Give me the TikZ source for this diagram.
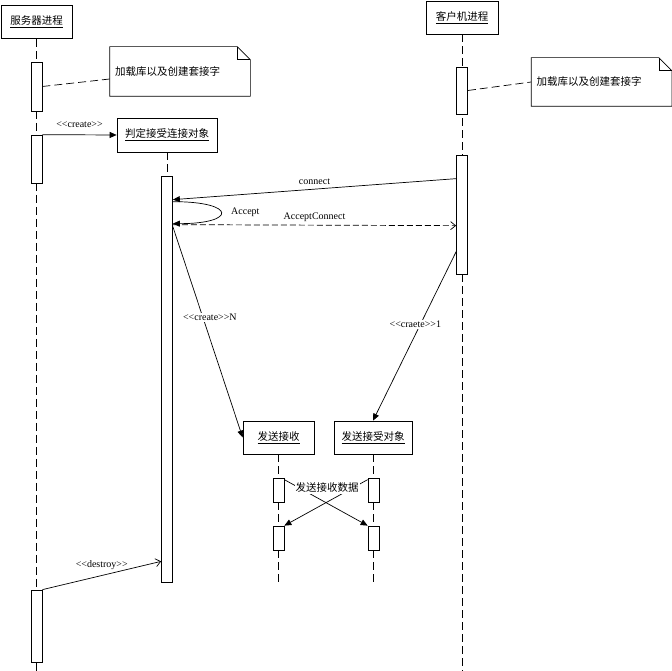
\documentclass[tikz,border=0pt]{standalone}
\usepackage{fontspec}
\setmainfont{Liberation Serif}
\newfontfamily\cjk{Noto Sans CJK SC}
\usetikzlibrary{arrows,arrows.meta,shapes,positioning}

\newcommand{\stereo}[1]{<{}<#1>{}>}

\tikzset{
  obj/.style={draw, rectangle, minimum height=33pt, inner sep=2pt, font=\cjk\fontsize{10.5}{12}\selectfont},
  act/.style={draw, fill=white, minimum width=11pt, inner sep=0pt},
  notebox/.style={text width=130pt, inner xsep=5pt, minimum height=49pt, align=left, font=\cjk\fontsize{10.5}{12}\selectfont},
  life/.style={dash pattern=on 8pt off 4pt},
  call/.style={-{Triangle[length=7pt,width=6pt]}},
  reply/.style={dash pattern=on 6pt off 3pt, -{Straight Barb[length=5pt,width=8pt]}},
  opencall/.style={-{Straight Barb[length=5pt,width=8pt]}},
  lbl/.style={font=\fontsize{10}{12}\selectfont, inner sep=1pt}
}

\begin{document}
\begin{tikzpicture}[x=1pt, y=-1pt, line width=0.7pt]
      \useasboundingbox (0,0) rectangle (672,671);
      % objects
      \node[obj, minimum width=71pt] (srv) at (36.5,22) {\underline{服务器进程}};
      \node[obj, minimum width=72pt] (cli) at (462,17.5) {\underline{客户机进程}};
      \node[obj, minimum width=100pt, minimum height=34pt] (judge) at (167,135) {\underline{判定接受连接对象}};
      \node[obj, minimum width=71pt] (sr) at (278.5,437.5) {\underline{发送接收}};
      \node[obj, minimum width=78pt] (sro) at (373,437.5) {\underline{发送接受对象}};
      % notes
      \node[notebox] (n1) at (180,71.5) {加载库以及创建套接字};
      \node[notebox, minimum height=48pt] (n2) at (601.5,82) {加载库以及创建套接字};
      \foreach \n in {n1,n2} {
        \draw (\n.south west) -- (\n.south east) -- ([yshift=-13pt]\n.north east)
          -- ([xshift=-13pt]\n.north east) -- (\n.north west) -- cycle;
        \draw ([xshift=-13pt]\n.north east) -- ([xshift=-13pt, yshift=-13pt]\n.north east)
          -- ([yshift=-13pt]\n.north east);
      }
      % lifelines
      \coordinate (srvend) at (36.5,671);
      \coordinate (cliend) at (462,671);
      \coordinate (srend) at (278.5,582);
      \coordinate (sroend) at (373,582);
      \draw[life] (srv.south) -- (srvend);
      \draw[life] (cli.south) -- (cliend);
      \draw[life] (sr.south) -- (srend);
      \draw[life] (sro.south) -- (sroend);
      % activations
      \node[act, minimum height=49pt] (sa1) at (36.5,86.5) {};
      \node[act, minimum height=48pt] (sa2) at (36.5,159) {};
      \node[act, minimum height=72pt] (sa3) at (36.5,626) {};
      \node[act, minimum height=406pt] (ja) at (167,379) {};
      \draw[life] (judge.south) -- (ja.north);
      \node[act, minimum height=47pt] (ca1) at (462,90.5) {};
      \node[act, minimum height=119pt] (ca2) at (462,214.5) {};
      \node[act, minimum height=24pt] (ra1) at (278.5,490) {};
      \node[act, minimum height=24pt] (ra2) at (278.5,538) {};
      \node[act, minimum height=24pt] (rb1) at (373.5,490) {};
      \node[act, minimum height=24pt] (rb2) at (373.5,538) {};
      % note links
      \draw[life] (sa1.east) -- ([yshift=-7.5pt]n1.west);
      \draw[life] (ca1.east) -- (n2.west);
      % messages
      \draw[call] (sa2.north east) -- (judge.west) node[lbl, midway, above=6pt] {\stereo{create}};
      \draw[call] ([yshift=-24pt]ca2.north west) -- ([yshift=-24pt]ja.north east)
        node[lbl, midway, above=3pt] {connect};
      \draw[call] ([yshift=-26pt]ja.north east) .. controls +(64,0) and +(64,0) .. ([yshift=-48pt]ja.north east)
        node[lbl, pos=0.5, right=9pt] {Accept};
      \draw[reply] ([yshift=-49pt]ja.north east) -- ([yshift=-71pt]ca2.north west)
        node[lbl, midway, above=2pt] {AcceptConnect};
      \draw[call] ([yshift=-51pt]ja.north east) -- (sr.west)
        node[lbl, fill=white, pos=0.43, xshift=7pt] {\stereo{create}N};
      \draw[call] ([yshift=-97pt]ca2.north west) -- (sro.north)
        node[lbl, fill=white, pos=0.43, xshift=-5pt] {\stereo{craete}1};
      \draw[call] ([yshift=-2pt]ra1.north east) -- (rb2.north west);
      \draw[call] ([yshift=-2pt]rb1.north west) -- (ra2.north east);
      \node[fill=white, inner sep=1pt, font=\cjk\fontsize{10.5}{12}\selectfont] (data) at (327,488) {发送接收数据};
      \draw[opencall] (sa3.north east) -- ([yshift=21pt]ja.south west)
        node[lbl, midway, above=4pt] {\stereo{destroy}};
    \end{tikzpicture}
\end{document}
